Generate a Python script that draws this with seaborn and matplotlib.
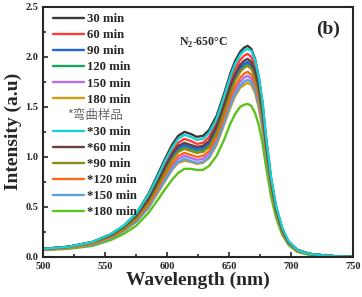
import numpy as np
import pandas as pd
import seaborn as sns
import matplotlib.pyplot as plt
from matplotlib.lines import Line2D
from matplotlib.ticker import MultipleLocator

wavelength = [500, 520, 540, 555, 565, 575, 585, 592, 598, 604, 609, 614, 619, 624, 629, 634, 640, 646,
              651, 655, 659, 662, 665, 668, 671, 674, 677, 680, 684, 688, 693, 698, 705, 715, 730, 750]

s30 = [0.08, 0.10, 0.15, 0.23, 0.31, 0.43, 0.63, 0.81, 0.97, 1.12, 1.21, 1.25, 1.23, 1.20, 1.21, 1.27, 1.41, 1.63,
       1.83, 1.96, 2.05, 2.09, 2.11, 2.08, 1.98, 1.80, 1.54, 1.18, 0.78, 0.50, 0.28, 0.15, 0.07, 0.03, 0.01, 0.00]
s60 = [0.08, 0.10, 0.14, 0.22, 0.30, 0.41, 0.60, 0.77, 0.92, 1.06, 1.14, 1.18, 1.16, 1.13, 1.14, 1.20, 1.35, 1.56,
       1.76, 1.88, 1.97, 2.01, 2.03, 2.00, 1.91, 1.74, 1.49, 1.14, 0.76, 0.49, 0.27, 0.15, 0.07, 0.03, 0.01, 0.00]
s90 = [0.08, 0.10, 0.14, 0.21, 0.29, 0.40, 0.57, 0.73, 0.87, 1.01, 1.09, 1.12, 1.10, 1.08, 1.09, 1.14, 1.28, 1.49,
       1.68, 1.80, 1.89, 1.93, 1.95, 1.92, 1.83, 1.67, 1.43, 1.10, 0.73, 0.47, 0.26, 0.14, 0.07, 0.03, 0.01, 0.00]
s120 = [0.08, 0.10, 0.14, 0.21, 0.29, 0.39, 0.56, 0.72, 0.86, 0.99, 1.07, 1.10, 1.08, 1.06, 1.07, 1.12, 1.26, 1.47,
        1.66, 1.78, 1.87, 1.91, 1.93, 1.90, 1.81, 1.65, 1.42, 1.09, 0.72, 0.46, 0.26, 0.14, 0.07, 0.03, 0.01, 0.00]
s150 = [0.07, 0.09, 0.13, 0.20, 0.27, 0.36, 0.51, 0.66, 0.79, 0.91, 0.98, 1.01, 0.99, 0.97, 0.98, 1.03, 1.17, 1.37,
        1.55, 1.67, 1.75, 1.79, 1.81, 1.78, 1.70, 1.55, 1.33, 1.02, 0.68, 0.44, 0.25, 0.13, 0.06, 0.03, 0.01, 0.00]
s180 = [0.07, 0.09, 0.13, 0.19, 0.26, 0.35, 0.49, 0.63, 0.75, 0.87, 0.94, 0.96, 0.95, 0.93, 0.94, 0.99, 1.12, 1.32,
        1.49, 1.61, 1.69, 1.72, 1.74, 1.72, 1.64, 1.49, 1.28, 0.99, 0.66, 0.42, 0.24, 0.13, 0.06, 0.03, 0.01, 0.00]
b30 = [0.08, 0.10, 0.15, 0.23, 0.31, 0.43, 0.62, 0.79, 0.95, 1.09, 1.18, 1.22, 1.20, 1.17, 1.18, 1.24, 1.38, 1.60,
       1.80, 1.93, 2.02, 2.06, 2.08, 2.06, 1.97, 1.80, 1.55, 1.19, 0.79, 0.51, 0.29, 0.16, 0.07, 0.03, 0.01, 0.00]
b60 = [0.08, 0.10, 0.15, 0.22, 0.30, 0.41, 0.58, 0.74, 0.89, 1.03, 1.11, 1.14, 1.12, 1.10, 1.11, 1.16, 1.31, 1.52,
       1.71, 1.83, 1.92, 1.96, 1.98, 1.95, 1.86, 1.70, 1.46, 1.12, 0.75, 0.48, 0.27, 0.15, 0.07, 0.03, 0.01, 0.00]
b90 = [0.08, 0.10, 0.14, 0.21, 0.28, 0.38, 0.55, 0.70, 0.84, 0.97, 1.05, 1.08, 1.06, 1.04, 1.05, 1.10, 1.24, 1.45,
       1.64, 1.76, 1.85, 1.89, 1.91, 1.88, 1.79, 1.64, 1.41, 1.08, 0.72, 0.46, 0.26, 0.14, 0.07, 0.03, 0.01, 0.00]
b120 = [0.07, 0.09, 0.13, 0.20, 0.27, 0.37, 0.52, 0.67, 0.81, 0.93, 1.01, 1.04, 1.02, 1.00, 1.01, 1.06, 1.20, 1.40,
        1.59, 1.70, 1.79, 1.83, 1.85, 1.82, 1.74, 1.59, 1.37, 1.05, 0.70, 0.45, 0.25, 0.14, 0.06, 0.03, 0.01, 0.00]
b150 = [0.07, 0.09, 0.12, 0.19, 0.26, 0.35, 0.49, 0.64, 0.76, 0.88, 0.95, 0.98, 0.96, 0.94, 0.95, 1.00, 1.14, 1.34,
        1.52, 1.63, 1.71, 1.75, 1.77, 1.75, 1.67, 1.52, 1.31, 1.01, 0.68, 0.44, 0.25, 0.13, 0.06, 0.03, 0.01, 0.00]
b180 = [0.07, 0.08, 0.11, 0.17, 0.23, 0.31, 0.44, 0.56, 0.67, 0.77, 0.84, 0.88, 0.88, 0.87, 0.87, 0.91, 1.01, 1.17,
        1.33, 1.43, 1.50, 1.52, 1.53, 1.51, 1.44, 1.32, 1.14, 0.89, 0.60, 0.39, 0.22, 0.12, 0.05, 0.02, 0.01, 0.00]

labels = ['30 min', '60 min', '90 min', '120 min', '150 min', '180 min',
          '*30 min', '*60 min', '*90 min', '*120 min', '*150 min', '*180 min']
series = [s30, s60, s90, s120, s150, s180, b30, b60, b90, b120, b150, b180]
colors = ['#3a3a3a', '#ff3c3c', '#1a66e6', '#1aa35a', '#b36ef0', '#d19e12',
          '#16d2d2', '#6b3c3c', '#8c8c14', '#ff6614', '#5aa0e6', '#5cc21a']

sns.set_style('ticks')
plt.rcParams['font.family'] = ['Liberation Serif', 'Noto Sans CJK SC']
plt.rcParams['font.weight'] = 'bold'
plt.rcParams['mathtext.fontset'] = 'custom'
plt.rcParams['mathtext.rm'] = 'Liberation Serif:bold'
plt.rcParams['mathtext.bf'] = 'Liberation Serif:bold'

fig = plt.figure(figsize=(3.62, 2.97), dpi=100)
ax = fig.add_axes([0.119, 0.135, 0.856, 0.842])

# bent samples first, flat ones on top
order = list(range(6, 12)) + list(range(6))
for i in order[::-1]:
    df = pd.DataFrame({'wl': wavelength, 'I': series[i]})
    sns.lineplot(data=df, x='wl', y='I', ax=ax, color=colors[i], lw=1.7, legend=False)

ax.set_xlim(500, 750)
ax.set_ylim(0, 2.5)
ax.xaxis.set_major_locator(MultipleLocator(50))
ax.xaxis.set_minor_locator(MultipleLocator(25))
ax.yaxis.set_major_locator(MultipleLocator(0.5))
ax.yaxis.set_minor_locator(MultipleLocator(0.25))
ax.tick_params(which='both', direction='in', labelsize=7.5, width=1.2)
ax.tick_params(which='major', length=3.5)
ax.tick_params(which='minor', length=2)
for lab in ax.get_xticklabels() + ax.get_yticklabels():
    lab.set_fontweight('bold')
for sp in ax.spines.values():
    sp.set_linewidth(1.5)
    sp.set_visible(True)

ax.set_xlabel('Wavelength (nm)', fontsize=14, fontweight='bold', labelpad=1)
ax.set_ylabel('Intensity (a.u)', fontsize=14, fontweight='bold', labelpad=2)

handles = [Line2D([], [], color=colors[i], lw=1.7) for i in range(6)]
handles.append(Line2D([], [], color='none'))
handles += [Line2D([], [], color=colors[i], lw=1.7) for i in range(6, 12)]
leg_labels = labels[:6] + ['*弯曲样品'] + labels[6:]
leg = ax.legend(handles, leg_labels, loc='upper left', frameon=False, fontsize=9.2,
                handlelength=2.4, handletextpad=0.25, labelspacing=0.32,
                borderaxespad=0.1, bbox_to_anchor=(0.013, 1.0))
for t in leg.get_texts():
    t.set_fontweight('bold')

# the sample note sits further left than the other legend labels
fig.canvas.draw()
note = leg.get_texts()[6]
bb = note.get_window_extent()
note.set_visible(False)
fig.text(67 / 362, (bb.y0 + bb.y1) / 2 / fig.bbox.height, '*弯曲样品', fontsize=9,
         color='#666666', va='center', ha='left', fontweight='normal',
         family=['Noto Sans CJK SC', 'DejaVu Sans'])

ax.text(0.44, 0.845, 'N$_\\mathbf{2}$-650°C', transform=ax.transAxes, fontsize=8.5, fontweight='bold')
ax.text(0.88, 0.89, '(b)', transform=ax.transAxes, fontsize=14, fontweight='bold')

fig.savefig('out.png', dpi=100)
